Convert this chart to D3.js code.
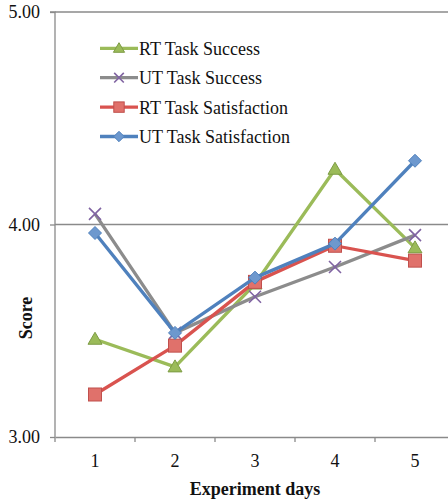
<!DOCTYPE html>
<html><head><meta charset="utf-8">
<script src="https://cdn.jsdelivr.net/npm/d3@7"></script>
<style>body{margin:0;background:#fff}svg{display:block}svg text{font-family:'Liberation Serif','Times New Roman',serif}</style>
</head><body>
<svg id="c" width="448" height="501"></svg>
<script>
const days = ["1","2","3","4","5"];
const yTicks = [3, 4, 5];
const seriesNames = ["RT Task Success","UT Task Success","RT Task Satisfaction","UT Task Satisfaction"];
const rtSuccess = [3.46, 3.33, 3.72, 4.26, 3.89];
const utSuccess = [4.05, 3.49, 3.66, 3.80, 3.95];
const rtSatisfaction = [3.20, 3.43, 3.73, 3.90, 3.83];
const utSatisfaction = [3.96, 3.49, 3.75, 3.91, 4.30];

const series = [
  {name: seriesNames[0], values: rtSuccess, line: "#9BBB59", marker: "triangle", fill: "#9BBB59", stroke: "#7e9c45"},
  {name: seriesNames[1], values: utSuccess, line: "#8C8C8C", marker: "x", fill: "none", stroke: "#8064A2"},
  {name: seriesNames[2], values: rtSatisfaction, line: "#D9534F", marker: "square", fill: "#E0716B", stroke: "#C0504D"},
  {name: seriesNames[3], values: utSatisfaction, line: "#4F81BD", marker: "diamond", fill: "#6D98CE", stroke: "#4F81BD"}
];

const svg = d3.select("#c");
const L = 55, T = 12, B = 437, R = 455;
const x = d3.scaleBand().domain(days).range([L, R]);
const y = d3.scaleLinear().domain([3, 5]).range([B, T]);
const font = "'Liberation Serif','Times New Roman',serif";

// gridlines
svg.append("g").selectAll("line").data(yTicks.filter(d => d > 3)).join("line")
  .attr("x1", L).attr("x2", 448).attr("y1", d => y(d)).attr("y2", d => y(d))
  .attr("stroke", "#8a8a8a").attr("stroke-width", 1.3);

// y axis
const ya = svg.append("g").attr("transform", `translate(${L},0)`)
  .call(d3.axisLeft(y).tickValues(yTicks).tickFormat(d3.format(".2f")).tickSize(5).tickPadding(10));
ya.select(".domain").attr("stroke", "#8a8a8a").attr("stroke-width", 1.3).attr("d", `M-5,${T}H0V${B}`);
ya.selectAll(".tick line").attr("stroke", "#8a8a8a").attr("stroke-width", 1.3);
ya.selectAll(".tick text").style("font-family", font).style("font-size", "18px").attr("fill", "#111");

// x axis
const xa = svg.append("g").attr("transform", `translate(0,${B})`)
  .call(d3.axisBottom(x).tickSize(0).tickPadding(17));
xa.select(".domain").attr("stroke", "#8a8a8a").attr("stroke-width", 1.3);
xa.selectAll(".tick text").style("font-family", font).style("font-size", "18px").attr("fill", "#111");
const bounds = days.map(d => x(d)).concat([R]);
svg.append("g").selectAll("line").data(bounds).join("line")
  .attr("x1", d => d).attr("x2", d => d).attr("y1", B).attr("y2", B + 5)
  .attr("stroke", "#8a8a8a").attr("stroke-width", 1.3);

// axis titles
svg.append("text").attr("x", 255).attr("y", 495).attr("text-anchor", "middle")
  .style("font-family", font).style("font-size", "18px").style("font-weight", "bold").attr("fill", "#111")
  .text("Experiment days");
svg.append("text").attr("transform", "translate(32,318) rotate(-90)").attr("text-anchor", "middle")
  .style("font-family", font).style("font-size", "18px").style("font-weight", "bold").attr("fill", "#111")
  .text("Score");

function drawMarker(g, s, cx, cy, k) {
  if (s.marker === "triangle") {
    g.append("path").attr("d", `M${cx},${cy-7*k}L${cx+7*k},${cy+5*k}L${cx-7*k},${cy+5*k}Z`)
      .attr("fill", s.fill).attr("stroke", s.stroke).attr("stroke-width", 1);
  } else if (s.marker === "x") {
    g.append("path").attr("d", `M${cx-6*k},${cy-6*k}L${cx+6*k},${cy+6*k}M${cx+6*k},${cy-6*k}L${cx-6*k},${cy+6*k}`)
      .attr("stroke", s.stroke).attr("stroke-width", 1.6).attr("fill", "none");
  } else if (s.marker === "square") {
    g.append("rect").attr("x", cx-6.5*k).attr("y", cy-6.5*k).attr("width", 13*k).attr("height", 13*k)
      .attr("fill", s.fill).attr("stroke", s.stroke).attr("stroke-width", 1);
  } else {
    g.append("path").attr("d", `M${cx},${cy-6.5*k}L${cx+6.5*k},${cy}L${cx},${cy+6.5*k}L${cx-6.5*k},${cy}Z`)
      .attr("fill", s.fill).attr("stroke", s.stroke).attr("stroke-width", 1);
  }
}

const line = d3.line().x((d, i) => x(days[i]) + x.bandwidth() / 2).y(d => y(d));
series.forEach(s => {
  const g = svg.append("g");
  g.append("path").attr("d", line(s.values)).attr("fill", "none")
    .attr("stroke", s.line).attr("stroke-width", 3.3).attr("stroke-linejoin", "round");
  s.values.forEach((v, i) => drawMarker(g, s, x(days[i]) + x.bandwidth() / 2, y(v), 1));
});

// legend
const lg = svg.append("g");
series.forEach((s, i) => {
  const yy = 48.3 + i * 29.4;
  lg.append("line").attr("x1", 100).attr("x2", 138).attr("y1", yy).attr("y2", yy)
    .attr("stroke", s.line).attr("stroke-width", 3.3);
  drawMarker(lg, s, 119, yy, 0.8);
  lg.append("text").attr("x", 139).attr("y", yy + 6.7).style("font-family", font)
    .style("font-size", "18px").attr("fill", "#111").text(s.name);
});
</script>
</body></html>
